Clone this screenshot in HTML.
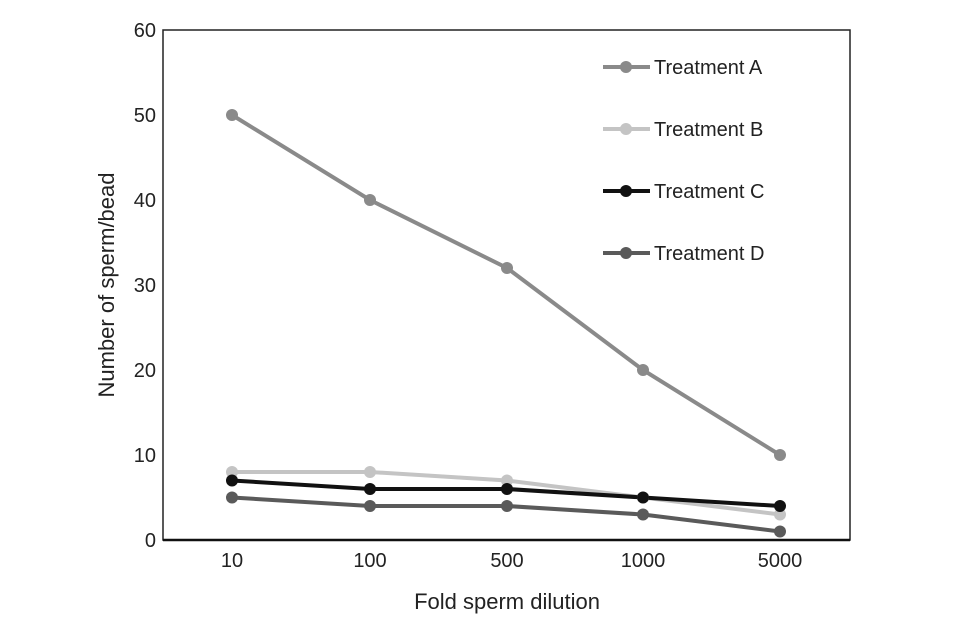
<!DOCTYPE html>
<html><head><style>body{margin:0;background:#fff}svg{display:block}</style></head><body>
<svg width="960" height="642" xmlns="http://www.w3.org/2000/svg" font-family="Liberation Sans, sans-serif">
<rect width="960" height="642" fill="#fff"/>
<rect x="163" y="30" width="687" height="510" fill="none" stroke="#222" stroke-width="1.5"/>
<line x1="163" y1="540" x2="850" y2="540" stroke="#111" stroke-width="2.5"/>
<g font-size="20" fill="#222" text-anchor="end">
<text x="156" y="547">0</text><text x="156" y="462">10</text><text x="156" y="377">20</text><text x="156" y="292">30</text><text x="156" y="207">40</text><text x="156" y="122">50</text><text x="156" y="37">60</text></g>
<g font-size="20" fill="#222" text-anchor="middle">
<text x="232" y="567">10</text><text x="370" y="567">100</text><text x="507" y="567">500</text><text x="643" y="567">1000</text><text x="780" y="567">5000</text>
<text x="507" y="609" font-size="22">Fold sperm dilution</text></g>
<text transform="translate(114 285) rotate(-90)" font-size="22" fill="#222" text-anchor="middle">Number of sperm/bead</text>
<g stroke-width="4" fill="none">
<polyline stroke="#c4c4c4" points="232,472 370,472 507,480.5 643,497.5 780,514.5"/>
<polyline stroke="#8a8a8a" points="232,115 370,200 507,268 643,370 780,455"/>
<polyline stroke="#5a5a5a" points="232,497.5 370,506 507,506 643,514.5 780,531.5"/>
<polyline stroke="#111" points="232,480.5 370,489 507,489 643,497.5 780,506"/>
</g>
<g fill="#c4c4c4"><circle cx="232" cy="472" r="6"/><circle cx="370" cy="472" r="6"/><circle cx="507" cy="480.5" r="6"/><circle cx="643" cy="497.5" r="6"/><circle cx="780" cy="514.5" r="6"/></g>
<g fill="#8a8a8a"><circle cx="232" cy="115" r="6"/><circle cx="370" cy="200" r="6"/><circle cx="507" cy="268" r="6"/><circle cx="643" cy="370" r="6"/><circle cx="780" cy="455" r="6"/></g>
<g fill="#5a5a5a"><circle cx="232" cy="497.5" r="6"/><circle cx="370" cy="506" r="6"/><circle cx="507" cy="506" r="6"/><circle cx="643" cy="514.5" r="6"/><circle cx="780" cy="531.5" r="6"/></g>
<g fill="#111"><circle cx="232" cy="480.5" r="6"/><circle cx="370" cy="489" r="6"/><circle cx="507" cy="489" r="6"/><circle cx="643" cy="497.5" r="6"/><circle cx="780" cy="506" r="6"/></g>
<g stroke-width="4">
<line x1="603" y1="67" x2="650" y2="67" stroke="#8a8a8a"/><circle cx="626" cy="67" r="6" fill="#8a8a8a"/>
<line x1="603" y1="129" x2="650" y2="129" stroke="#c4c4c4"/><circle cx="626" cy="129" r="6" fill="#c4c4c4"/>
<line x1="603" y1="191" x2="650" y2="191" stroke="#111"/><circle cx="626" cy="191" r="6" fill="#111"/>
<line x1="603" y1="253" x2="650" y2="253" stroke="#5a5a5a"/><circle cx="626" cy="253" r="6" fill="#5a5a5a"/>
</g>
<g font-size="20" fill="#222">
<text x="654" y="74">Treatment A</text><text x="654" y="136">Treatment B</text><text x="654" y="198">Treatment C</text><text x="654" y="260">Treatment D</text></g>
</svg>
</body></html>
